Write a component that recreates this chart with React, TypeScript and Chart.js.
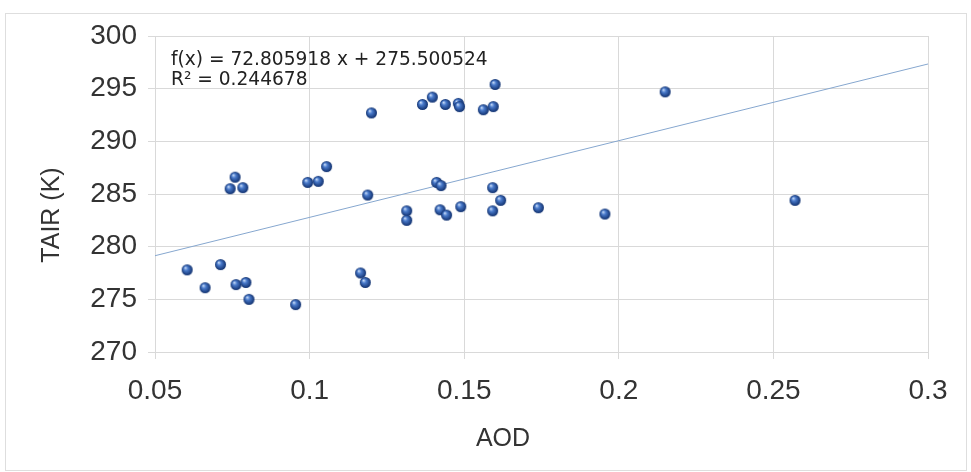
import React, { useEffect, useRef } from 'react';
import { Chart, registerables } from 'chart.js';

Chart.register(...registerables);

// ---- data ----
const aod = [
  0.0604, 0.0662, 0.0712, 0.0759, 0.0743, 0.0784, 0.0762, 0.0794, 0.0804, 0.0955,
  0.0994, 0.1028, 0.1055, 0.1200, 0.1188, 0.1165, 0.1180, 0.1314, 0.1314, 0.1365,
  0.1397, 0.1439, 0.1481, 0.1485, 0.1562, 0.1594, 0.1600, 0.1411, 0.1425, 0.1422,
  0.1443, 0.1489, 0.1592, 0.1618, 0.1592, 0.1740, 0.1955, 0.2150, 0.2570,
];
const tair = [
  277.8, 276.1, 278.3, 286.6, 285.5, 285.6, 276.4, 276.6, 275.0, 274.5,
  286.1, 286.2, 287.6, 292.7, 284.9, 277.5, 276.6, 283.4, 282.5, 293.5,
  294.2, 293.5, 293.6, 293.3, 293.0, 293.3, 295.4, 286.1, 285.8, 283.5,
  283.0, 283.8, 285.6, 284.4, 283.4, 283.7, 283.1, 294.7, 284.4,
];
const xTickValues = [0.05, 0.1, 0.15, 0.2, 0.25, 0.3];
const xTickLabels = ['0.05', '0.1', '0.15', '0.2', '0.25', '0.3'];
const yTickValues = [270, 275, 280, 285, 290, 295, 300];
const yTickLabels = ['270', '275', '280', '285', '290', '295', '300'];
const trendSlope = 72.805918;
const trendIntercept = 275.500524;
const trendX = [0.05, 0.3];
const xTitle = 'AOD';
const yTitle = 'TAIR (K)';
const eqLine1 = 'f(x) = 72.805918 x + 275.500524';
const eqLine2 = 'R² = 0.244678';

function makeSphere(r: number): HTMLCanvasElement {
  const c = document.createElement('canvas');
  const s = r * 2 + 2;
  c.width = s;
  c.height = s;
  const g = c.getContext('2d')!;
  const cx = s / 2;
  const cy = s / 2;
  const grad = g.createRadialGradient(cx - r * 0.35, cy - r * 0.4, r * 0.05, cx, cy, r);
  grad.addColorStop(0, '#c8dcf8');
  grad.addColorStop(0.35, '#4a7bcc');
  grad.addColorStop(1, '#10306e');
  g.fillStyle = grad;
  g.beginPath();
  g.arc(cx, cy, r, 0, Math.PI * 2);
  g.fill();
  return c;
}

const textPlugin = {
  id: 'extraTexts',
  afterDraw(chart: any) {
    const ctx = chart.ctx as CanvasRenderingContext2D;
    ctx.save();
    ctx.fillStyle = '#333333';
    ctx.font = '25px "Liberation Sans", Arial, sans-serif';
    ctx.textAlign = 'center';
    ctx.textBaseline = 'middle';
    ctx.fillText(xTitle, 503, 439);
    ctx.save();
    ctx.translate(52, 215);
    ctx.rotate(-Math.PI / 2);
    ctx.fillText(yTitle, 0, 0);
    ctx.restore();
    ctx.font = '18.6px "DejaVu Sans", sans-serif';
    ctx.textAlign = 'left';
    ctx.textBaseline = 'alphabetic';
    ctx.fillStyle = '#222222';
    ctx.fillText(eqLine1, 171, 65);
    ctx.fillText(eqLine2, 171, 85);
    ctx.restore();
  },
};

export default function App() {
  const ref = useRef<HTMLCanvasElement | null>(null);

  useEffect(() => {
    if (!ref.current) return;
    const sphere = makeSphere(5.5);
    const points = aod.map((x, i) => ({ x, y: tair[i] }));
    const trend = trendX.map((x) => ({ x, y: trendSlope * x + trendIntercept }));
    const tickFont = { family: '"Liberation Sans", Arial, sans-serif', size: 28 };
    const gridColor = '#d9d9d9';

    const chart = new Chart(ref.current, {
      type: 'scatter',
      data: {
        datasets: [
          {
            label: 'TAIR',
            data: points,
            pointStyle: sphere as any,
            pointRadius: 5,
            backgroundColor: '#2f5fb0',
            borderColor: '#2f5fb0',
            showLine: false,
          },
          {
            label: 'trend',
            data: trend,
            showLine: true,
            pointRadius: 0,
            borderColor: '#86a7cf',
            borderWidth: 1,
            fill: false,
          } as any,
        ],
      },
      options: {
        animation: false,
        responsive: true,
        maintainAspectRatio: false,
        layout: { padding: { left: 0, right: 43, top: 36, bottom: 0 } },
        plugins: {
          legend: { display: false },
          tooltip: { enabled: false },
        },
        scales: {
          x: {
            type: 'linear',
            min: 0.05,
            max: 0.3,
            afterBuildTicks: (s: any) => {
              s.ticks = xTickValues.map((v) => ({ value: v }));
            },
            afterFit: (s: any) => {
              s.height = 120;
            },
            ticks: {
              callback: (_v: any, i: number) => xTickLabels[i],
              font: tickFont,
              color: '#333333',
              padding: 15,
              maxRotation: 0,
              autoSkip: false,
            },
            grid: { color: gridColor, tickLength: 7, lineWidth: 1 },
            border: { color: gridColor },
          },
          y: {
            type: 'linear',
            min: 270,
            max: 300,
            afterBuildTicks: (s: any) => {
              s.ticks = yTickValues.map((v) => ({ value: v }));
            },
            afterFit: (s: any) => {
              s.width = 155;
            },
            ticks: {
              callback: (_v: any, i: number) => yTickLabels[i],
              font: tickFont,
              color: '#333333',
              padding: 11,
              autoSkip: false,
            },
            grid: { color: gridColor, tickLength: 7, lineWidth: 1 },
            border: { color: gridColor },
          },
        },
      },
      plugins: [textPlugin],
    });
    return () => chart.destroy();
  }, []);

  return (
    <div style={{ position: 'fixed', left: 0, top: 0, width: 971, height: 472, background: '#ffffff' }}>
      <div
        style={{
          position: 'absolute',
          left: 5,
          top: 13,
          width: 962,
          height: 458,
          boxSizing: 'border-box',
          border: '1px solid #dedede',
        }}
      />
      <div style={{ position: 'absolute', left: 0, top: 0, width: 971, height: 472 }}>
        <canvas ref={ref} />
      </div>
    </div>
  );
}
